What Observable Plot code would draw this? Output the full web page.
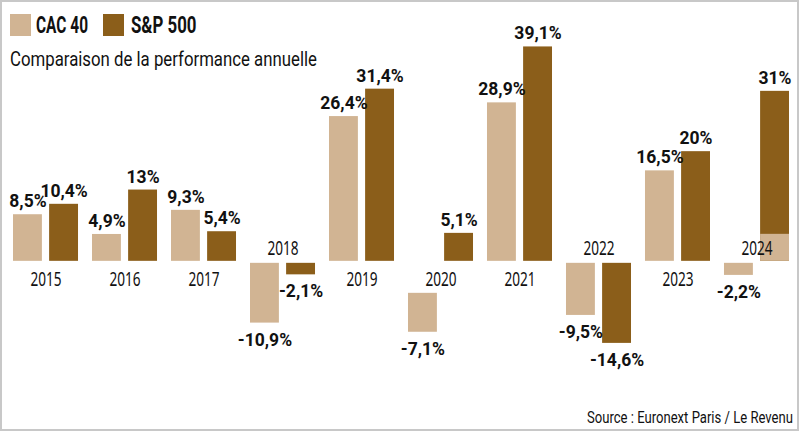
<!DOCTYPE html>
<html>
<head>
<meta charset="utf-8">
<script src="https://cdn.jsdelivr.net/npm/d3@7"></script>
<script src="https://cdn.jsdelivr.net/npm/@observablehq/plot@0.6"></script>
<style>
  html, body { margin: 0; padding: 0; background: #fff; }
  #wrap { position: relative; width: 800px; height: 431px; overflow: hidden; font-family: Roboto, "Liberation Sans", sans-serif; color: #111; }
  #chart { position: absolute; left: 0; top: 0; }
  #frame { position: absolute; left: 0; top: 0; width: 799px; height: 431px; border: 2px solid #c8c8c8; box-sizing: border-box; pointer-events: none; }
  .t { position: absolute; white-space: nowrap; line-height: 1; }
  .sw { position: absolute; width: 21px; height: 22px; top: 14px; }
</style>
</head>
<body>
<div id="wrap">
  <div id="chart"></div>
  <div id="frame"></div>
</div>
<script>
// ---- data ----
const years = [2015, 2016, 2017, 2018, 2019, 2020, 2021, 2022, 2023, 2024];
const seriesNames = ["CAC 40", "S&P 500"];
const cac = [8.5, 4.9, 9.3, -10.9, 26.4, -7.1, 28.9, -9.5, 16.5, -2.2];
const sp = [10.4, 13, 5.4, -2.1, 31.4, 5.1, 39.1, -14.6, 20, 31];
const subtitle = "Comparaison de la performance annuelle";
const source = "Source : Euronext Paris / Le Revenu";

const seriesColors = ["#d1b493", "#8b5e1a"];

const rows = years.flatMap((y, i) => [
  {year: String(y), series: seriesNames[0], value: cac[i]},
  {year: String(y), series: seriesNames[1], value: sp[i]}
]);

const fmt = d => String(d.value).replace(".", ",") + "%";
// year labels drawn above the zero line for these years
const labelAbove = new Set(["2018", "2022", "2024"]);
// the 2020 CAC bar is pushed below its year label
const pushed = d => d.year === "2020" && d.series === seriesNames[0];
// the 2024 year label sits on a light patch over the S&P bar
const patch = d => d.year === "2024" && d.series === seriesNames[1];

const valueFont = {fontFamily: "Roboto, 'Liberation Sans', sans-serif", fontWeight: "bold", fontSize: 17.5, fill: "#111"};

const chart = Plot.plot({
  width: 800,
  height: 431,
  marginLeft: 13,
  marginRight: 11,
  marginTop: 41.5,
  marginBottom: 60.5,
  style: {background: "transparent", overflow: "visible"},
  facet: {data: rows, x: "year"},
  fx: {domain: years.map(String), paddingInner: 0.177, paddingOuter: 0, round: false, axis: null, label: null},
  x: {domain: seriesNames, paddingInner: 0.2, paddingOuter: 0, round: false, axis: null},
  y: {domain: [-20, 40], axis: null},
  color: {domain: seriesNames, range: seriesColors},
  marks: [
    Plot.barY(rows, {filter: d => d.value >= 0, x: "series", y1: 0, y2: "value", fill: "series"}),
    Plot.barY(rows, {filter: d => d.value < 0 && !pushed(d), x: "series", y1: 0, y2: "value", fill: "series", dy: 2}),
    Plot.barY(rows, {filter: d => d.value < 0 && pushed(d), x: "series", y1: 0, y2: "value", fill: "series", dy: 32}),
    Plot.barY(rows, {filter: patch, x: "series", y1: 0, y2: 0, insetTop: -27, fill: seriesColors[0]}),
    Plot.text(rows, {filter: d => d.series === seriesNames[0] && !labelAbove.has(d.year), y: 0, text: "year", frameAnchor: "middle", lineAnchor: "top", dy: 10, fontSize: 20, fill: "#111"}),
    Plot.text(rows, {filter: d => d.series === seriesNames[0] && labelAbove.has(d.year), y: 0, text: "year", frameAnchor: "middle", lineAnchor: "bottom", dy: -6.5, fontSize: 20, fill: "#111"}),
    Plot.text(rows, {filter: d => d.value >= 0, x: "series", y: "value", text: fmt, lineAnchor: "bottom", dy: -7.5, ...valueFont}),
    Plot.text(rows, {filter: d => d.value < 0 && !pushed(d), x: "series", y: "value", text: fmt, lineAnchor: "top", dy: 12, ...valueFont}),
    Plot.text(rows, {filter: d => d.value < 0 && pushed(d), x: "series", y: "value", text: fmt, lineAnchor: "top", dy: 42, ...valueFont})
  ]
});
document.getElementById("chart").appendChild(chart);

// condensed look for the year labels
const yearStrings = new Set(years.map(String));
chart.querySelectorAll("text").forEach(t => {
  if (!yearStrings.has(t.textContent)) return;
  let tr = t.getAttribute("transform") || "";
  const x = t.getAttribute("x");
  if (x != null && !/em$/.test(x)) { tr += ` translate(${x},0)`; t.removeAttribute("x"); }
  t.setAttribute("transform", (tr + " scale(0.68,1)").trim());
});

// ---- legend, subtitle, source (HTML) ----
const wrap = document.getElementById("wrap");
function addText(txt, {left, right, top, size, weight, width}) {
  const el = document.createElement("div");
  el.className = "t";
  el.textContent = txt;
  el.style.fontSize = size + "px";
  el.style.fontWeight = weight || 400;
  el.style.top = top + "px";
  if (left != null) { el.style.left = left + "px"; el.style.transformOrigin = "left top"; }
  else { el.style.right = right + "px"; el.style.transformOrigin = "right top"; }
  wrap.insertBefore(el, document.getElementById("frame"));
  const w = el.getBoundingClientRect().width;
  if (width) el.style.transform = `scaleX(${width / w})`;
  return el;
}
const swLeft = [10, 102.5];
const txLeft = [36, 131];
const txWidth = [52, 65.5];
seriesNames.forEach((s, i) => {
  const sw = document.createElement("div");
  sw.className = "sw";
  sw.style.left = swLeft[i] + "px";
  sw.style.background = seriesColors[i];
  wrap.insertBefore(sw, document.getElementById("frame"));
  addText(s, {left: txLeft[i], top: 14, size: 23, weight: 700, width: txWidth[i]});
});
addText(subtitle, {left: 10, top: 49, size: 21, weight: 400, width: 307});
addText(source, {right: 7, top: 410, size: 16, weight: 400, width: 206});
</script>
</body>
</html>
